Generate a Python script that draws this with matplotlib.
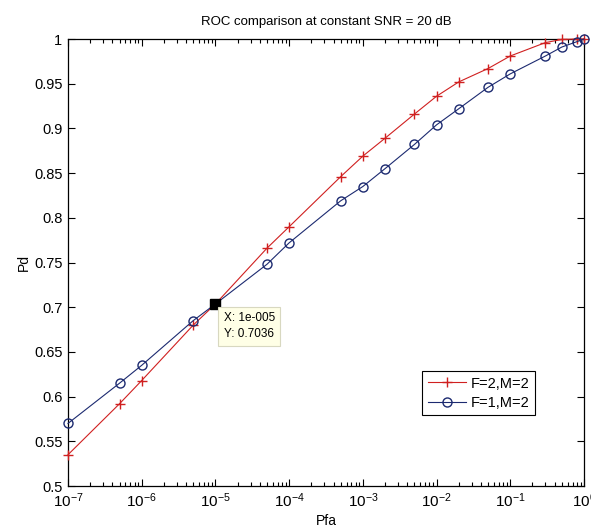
import numpy as np
import matplotlib
matplotlib.use("Agg")
import matplotlib.pyplot as plt
from matplotlib.ticker import LogLocator, FixedLocator, FuncFormatter, NullFormatter

plt.rcParams['font.family'] = ['Liberation Sans', 'DejaVu Sans']
plt.rcParams['mathtext.fontset'] = 'custom'
plt.rcParams['mathtext.rm'] = 'Liberation Sans'
plt.rcParams['mathtext.default'] = 'regular'

# Data
pfa_red = [1e-7, 5e-7, 1e-6, 5e-6, 1e-5, 5e-5, 1e-4, 5e-4, 1e-3, 2e-3, 5e-3,
           1e-2, 2e-2, 5e-2, 1e-1, 3e-1, 5e-1, 8e-1, 1.0]
pd_red = [0.535, 0.592, 0.618, 0.680, 0.7036, 0.766, 0.790, 0.846, 0.869, 0.889, 0.916,
          0.936, 0.952, 0.967, 0.981, 0.996, 0.9995, 1.0, 1.0]
pfa_blue = [1e-7, 5e-7, 1e-6, 5e-6, 1e-5, 5e-5, 1e-4, 5e-4, 1e-3, 2e-3, 5e-3,
            1e-2, 2e-2, 5e-2, 1e-1, 3e-1, 5e-1, 8e-1, 1.0]
pd_blue = [0.570, 0.615, 0.635, 0.685, 0.7036, 0.748, 0.772, 0.819, 0.835, 0.855, 0.882,
           0.904, 0.922, 0.946, 0.961, 0.981, 0.991, 0.997, 1.0]
labels = ["F=2,M=2", "F=1,M=2"]
tip_x, tip_y = 1e-5, 0.7036
yticks = [0.5, 0.55, 0.6, 0.65, 0.7, 0.75, 0.8, 0.85, 0.9, 0.95, 1.0]

fig = plt.figure(figsize=(5.91, 5.27), dpi=100)
ax = fig.add_axes([68/591, 1-486/527, (584-68)/591, (486-39)/527])

ax.plot(pfa_red, pd_red, color='#d02020', lw=0.8, marker='+', ms=7, mew=1.0,
        label=labels[0], clip_on=False, zorder=3)
ax.plot(pfa_blue, pd_blue, color='#1c2a70', lw=0.8, marker='o', ms=6.5, mfc='none',
        mew=1.0, label=labels[1], clip_on=False, zorder=3)

ax.set_xscale('log')
ax.set_xlim(1e-7, 1)
ax.set_ylim(0.5, 1)
ax.yaxis.set_major_locator(FixedLocator(yticks))
ax.yaxis.set_major_formatter(FuncFormatter(lambda v, p: "%g" % v))
ax.xaxis.set_major_locator(LogLocator(base=10, numticks=20))
ax.xaxis.set_minor_locator(LogLocator(base=10, subs=np.arange(2, 10), numticks=20))
ax.xaxis.set_minor_formatter(NullFormatter())
ax.tick_params(which='both', direction='in', top=True, right=True, labelsize=10.5, pad=4)
ax.tick_params(axis='x', which='major', labelsize=11)
ax.tick_params(which='major', length=5, width=0.8)
ax.tick_params(which='minor', length=3, width=0.8)
for s in ax.spines.values():
    s.set_linewidth(0.9)

ax.set_title("ROC comparison at constant SNR = 20 dB", fontsize=9.5, pad=10)
ax.set_xlabel("Pfa", fontsize=10, labelpad=3)
ax.set_ylabel("Pd", fontsize=10, labelpad=2)

# data tip
ax.plot([tip_x], [tip_y], marker='s', color='black', ms=7, zorder=5, clip_on=False)
ax.annotate("X: 1e-005\nY: 0.7036", xy=(tip_x, tip_y), xytext=(6, -6),
            textcoords='offset points', ha='left', va='top', fontsize=8.5, linespacing=1.45,
            bbox=dict(boxstyle='square,pad=0.45', fc='#ffffe6', ec='#d8d8c0', lw=0.8), zorder=6)

leg = ax.legend(loc='upper left', bbox_to_anchor=(0.687, 0.258), fancybox=False,
                edgecolor='black', framealpha=1, fontsize=10.5, handlelength=2.6,
                borderpad=0.4, labelspacing=0.35, handletextpad=0.3, borderaxespad=0)
leg.get_frame().set_linewidth(0.8)

fig.savefig("out.png", dpi=100)
